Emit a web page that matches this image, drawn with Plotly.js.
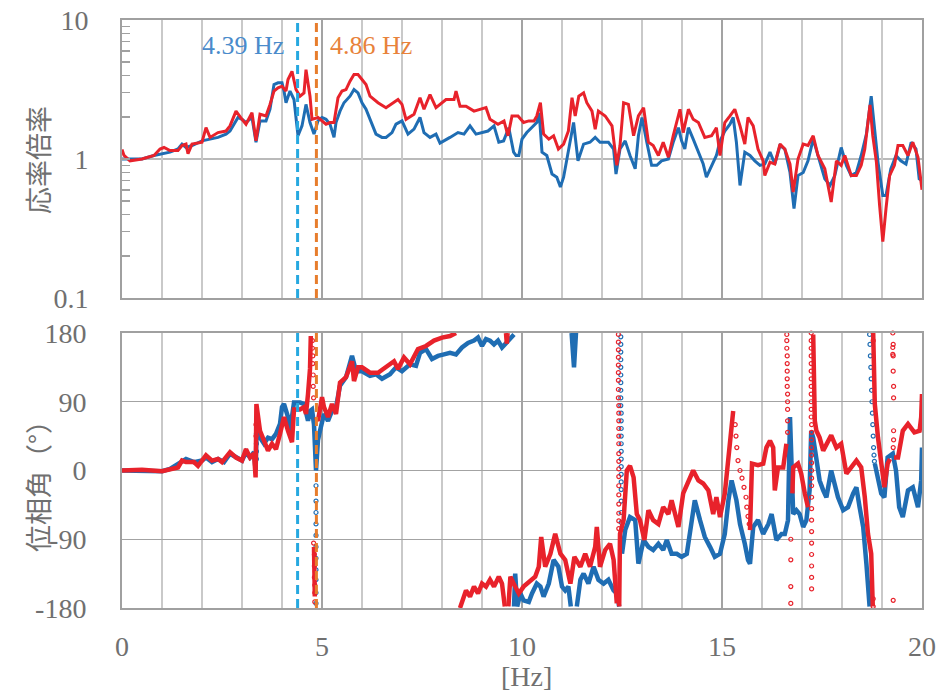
<!DOCTYPE html>
<html>
<head>
<meta charset="utf-8">
<script src="https://cdn.plot.ly/plotly-3.0.1.min.js"></script>
<style>html,body{margin:0;padding:0;background:#fff;}#chart{width:949px;height:695px;}</style>
</head>
<body>
<div id="chart"></div>
<script>
// ---- amplitude (応率倍率) ----
const ampRedX = [0,0.05,0.2,0.5,0.8,0.95,1.05,1.2,1.4,1.5,1.6,1.65,1.75,2.0,2.1,2.2,2.4,2.6,2.7,2.85,3.0,3.1,3.25,3.35,3.45,3.6,3.7,3.8,3.9,4.0,4.1,4.15,4.25,4.35,4.45,4.55,4.6,4.7,4.75,4.9,5.0,5.1,5.2,5.3,5.4,5.5,5.6,5.7,5.8,5.9,6.0,6.1,6.2,6.4,6.6,6.8,6.9,7.0,7.1,7.3,7.45,7.55,7.7,7.85,8.0,8.1,8.3,8.35,8.45,8.6,8.8,9.0,9.1,9.2,9.4,9.55,9.65,9.75,9.9,10.04,10.17,10.3,10.37,10.46,10.54,10.67,10.79,10.91,11.04,11.16,11.25,11.33,11.42,11.54,11.62,11.75,11.83,11.91,12.08,12.25,12.37,12.45,12.54,12.66,12.79,12.91,13.04,13.16,13.28,13.41,13.53,13.66,13.78,13.95,14.03,14.16,14.28,14.41,14.57,14.74,14.86,14.95,15.07,15.2,15.32,15.45,15.57,15.65,15.78,15.9,16.03,16.07,16.2,16.32,16.45,16.57,16.7,16.78,16.9,17.03,17.15,17.28,17.4,17.57,17.73,17.86,17.98,18.07,18.23,18.36,18.48,18.57,18.7,18.77,18.86,18.94,19.02,19.1,19.19,19.31,19.4,19.52,19.65,19.77,19.9,20.0];
const ampRed  = [1.17,1.06,0.97,1.0,1.06,1.18,1.21,1.15,1.15,1.25,1.28,1.09,1.28,1.32,1.68,1.43,1.55,1.59,1.73,2.21,1.93,1.78,2.15,1.35,2.10,2.04,2.47,3.08,3.25,3.34,3.08,3.73,4.27,3.16,2.83,2.99,4.39,2.83,1.93,1.99,1.88,1.78,1.83,1.83,2.76,3.08,3.16,3.63,4.05,4.05,3.73,3.43,2.83,2.54,2.34,2.54,2.68,2.47,1.93,2.10,2.76,2.28,2.91,2.34,2.54,2.68,2.68,3.08,2.40,2.40,2.21,2.28,2.34,1.93,1.78,1.88,1.47,2.04,2.04,1.83,1.88,1.88,2.04,2.54,1.51,1.39,1.47,1.18,1.28,1.59,2.76,2.04,2.83,2.99,2.54,2.21,1.64,2.21,2.04,1.73,0.90,1.25,2.54,2.47,1.47,2.04,2.34,1.32,1.25,1.06,1.32,1.03,1.47,2.28,1.55,2.28,1.93,1.83,1.43,1.47,1.68,1.06,1.83,2.04,2.28,1.73,1.28,1.99,1.73,1.18,0.97,0.76,0.95,0.92,1.28,1.18,0.92,0.578,1.0,1.28,1.25,1.47,1.06,0.85,0.49,0.97,0.90,1.06,0.76,0.76,0.90,1.18,2.45,1.47,0.95,0.464,0.254,0.44,0.76,0.90,1.25,1.25,1.06,1.32,1.03,0.60];

const ampBlueX = [0,0.5,0.8,1.0,1.2,1.4,1.5,1.6,1.75,2.0,2.2,2.4,2.6,2.7,2.9,3.0,3.1,3.25,3.35,3.45,3.6,3.7,3.8,3.9,4.0,4.05,4.1,4.2,4.3,4.35,4.4,4.5,4.6,4.7,4.8,4.9,5.0,5.1,5.2,5.3,5.35,5.45,5.55,5.7,5.8,5.9,6.0,6.1,6.2,6.35,6.5,6.6,6.75,6.85,7.0,7.15,7.3,7.45,7.55,7.7,7.85,7.95,8.2,8.4,8.55,8.7,8.85,9.0,9.15,9.3,9.42,9.54,9.67,9.79,9.85,9.92,10.0,10.12,10.25,10.37,10.43,10.5,10.62,10.75,10.87,10.96,11.04,11.16,11.29,11.4,11.54,11.7,11.83,11.95,12.16,12.29,12.35,12.45,12.58,12.7,12.83,12.91,13.0,13.12,13.24,13.37,13.49,13.66,13.78,13.91,13.99,14.07,14.16,14.28,14.41,14.53,14.61,14.74,14.86,14.95,15.07,15.2,15.28,15.36,15.45,15.57,15.7,15.82,15.95,16.07,16.2,16.32,16.45,16.57,16.7,16.8,16.9,17.03,17.15,17.28,17.4,17.57,17.7,17.82,17.98,18.11,18.23,18.36,18.48,18.61,18.73,18.82,18.9,19.02,19.1,19.22,19.35,19.47,19.6,19.73,19.85,19.93,20.0];
const ampBlue  = [1.0,1.0,1.06,1.09,1.12,1.18,1.28,1.21,1.25,1.35,1.39,1.43,1.51,1.59,1.99,1.93,1.83,1.99,1.32,1.88,1.88,2.28,3.43,3.53,3.53,3.08,2.54,3.08,2.68,1.93,1.47,1.73,2.47,1.83,1.51,1.88,1.99,1.93,1.78,1.43,1.83,2.21,2.54,2.83,3.16,2.99,2.54,2.28,1.93,1.51,1.43,1.43,1.55,1.78,1.88,1.51,1.64,1.99,1.55,1.43,1.51,1.30,1.43,1.55,1.51,1.73,1.51,1.55,1.59,1.73,1.32,1.35,1.68,1.12,1.06,1.06,1.39,1.55,1.68,1.83,2.15,1.12,1.06,0.78,0.74,0.628,0.74,1.12,1.83,0.97,1.28,1.32,1.43,1.32,1.32,1.18,0.78,1.18,1.35,1.06,0.85,1.47,1.99,1.32,0.90,0.90,0.97,1.0,1.32,1.68,1.35,1.18,1.68,1.39,1.12,0.92,0.74,0.90,1.06,1.35,1.59,1.78,1.99,1.32,0.645,1.12,1.06,0.97,0.90,0.92,1.12,0.92,1.25,1.18,0.80,0.44,0.76,0.80,0.97,1.39,1.06,0.72,0.645,0.76,1.21,0.90,0.76,0.80,1.06,1.51,2.83,1.68,0.95,0.547,0.547,0.85,1.06,0.97,0.92,1.32,1.18,0.72,0.70];

// ---- phase (位相角) : null = wrap break ----
const phRedX = [0,0.5,1.0,1.2,1.4,1.5,1.6,1.8,1.9,2.0,2.1,2.25,2.4,2.5,2.7,2.85,3.0,3.1,3.2,3.3,3.34,3.36,3.45,3.55,3.65,3.75,3.85,3.95,4.05,4.15,4.25,4.3,4.45,4.55,4.6,4.65,4.7,4.72,null,4.8,4.82,null,4.85,4.9,5.0,5.05,5.15,5.25,5.35,5.45,5.6,5.75,5.8,5.9,6.0,6.2,6.4,6.6,6.8,6.9,7.05,7.2,7.4,7.6,7.8,8.0,8.2,8.35,null,8.45,8.6,8.7,8.8,8.9,9.0,9.1,9.2,9.3,9.42,9.5,9.57,null,9.6,9.62,9.64,null,9.66,9.71,9.79,9.92,10.04,10.17,10.33,10.42,10.48,10.58,10.71,10.83,10.96,11.08,11.21,11.31,11.46,11.58,11.7,11.83,11.87,11.95,12.08,12.2,12.29,12.37,null,12.43,12.45,12.54,12.62,12.7,12.79,12.87,12.95,13.06,13.16,13.28,13.41,13.53,13.66,13.74,13.91,14.03,14.16,14.28,14.41,14.53,14.66,14.78,14.86,14.95,15.07,15.16,15.24,15.28,null,15.7,15.75,15.9,16.03,16.11,16.2,16.28,16.32,16.4,16.53,16.61,null,16.76,16.78,16.9,16.98,17.07,17.15,null,17.28,17.32,17.36,17.44,17.53,17.61,17.73,17.86,17.98,18.11,18.23,18.36,18.48,18.57,18.65,18.73,18.77,null,18.78,18.82,18.9,18.98,19.06,19.14,19.2,null,19.3,19.4,19.52,19.65,19.81,19.94,19.98,20.0];
const phRed  = [0,1,-1,2,4,13,11,11,6,13,20,13,15,11,24,17,13,28,17,22,-9,87,52,39,26,35,28,48,70,52,37,80,80,83,74,100,133,176,null,-100,-165,null,70,65,96,83,70,87,74,115,122,143,117,135,135,128,128,135,143,133,148,139,159,163,170,174,176,180,null,-180,-157,-165,-152,-161,-148,-152,-143,-152,-139,-148,-178,null,180,166,180,null,-178,-139,-148,-161,-152,-146,-139,-126,-87,-126,-109,-83,-109,-117,-148,-113,-126,-109,-126,-100,-74,-126,-104,-96,-117,-174,null,-178,-83,-65,0,6,-9,-57,-65,-91,-52,-65,-70,-48,-57,-39,-74,-30,-13,0,-13,-17,-26,-57,-35,-61,-30,17,65,78,null,-78,9,7,9,30,39,30,-26,4,4,35,null,-30,4,9,-4,-30,-48,null,178,65,52,43,26,35,46,30,35,-4,4,13,4,-35,-83,-109,-178,null,180,87,43,13,-22,9,15,null,17,17,52,61,50,52,70,100];

const phBlueX = [0,0.5,1.0,1.2,1.5,1.6,1.8,2.0,2.1,2.25,2.4,2.55,2.7,2.85,3.0,3.1,3.2,3.3,3.34,3.37,3.45,3.55,3.65,3.75,3.85,3.95,4.0,4.05,4.15,4.2,4.3,4.45,4.55,4.65,4.7,4.75,4.8,4.85,4.9,4.95,5.05,5.15,5.25,5.35,5.45,5.6,5.75,5.85,6.0,6.2,6.35,6.5,6.7,6.85,7.0,7.2,7.35,7.45,7.6,7.75,7.9,8.05,8.2,8.35,8.5,8.65,8.8,8.9,9.0,9.1,9.2,9.3,9.4,9.5,9.6,9.75,9.8,null,9.8,9.83,9.88,9.96,10.04,10.17,10.25,10.37,10.46,10.54,10.67,10.79,10.91,11.0,11.08,11.16,11.22,null,11.24,11.3,11.35,null,11.37,11.46,11.54,11.66,11.79,11.91,12.04,12.16,12.29,12.37,12.43,null,12.5,12.58,12.7,12.83,12.91,13.04,13.16,13.28,13.41,13.53,13.62,13.74,13.87,13.99,14.12,14.2,14.32,14.45,14.57,14.7,14.82,14.95,15.07,15.16,15.24,15.36,15.45,15.57,15.65,15.7,15.78,15.9,16.03,16.16,16.24,16.36,16.49,16.57,16.65,16.7,16.78,16.86,16.94,17.03,17.11,17.19,17.23,17.28,17.36,17.44,17.53,17.61,17.73,17.82,17.9,18.03,18.15,18.28,18.36,18.44,18.53,18.61,18.65,18.69,null,18.82,18.9,18.98,19.06,19.14,19.27,19.35,19.43,19.52,19.65,19.77,19.9,19.98,20.0];
const phBlue  = [0,-1,-1,2,11,15,11,13,17,11,15,11,22,17,13,24,17,24,0,61,43,35,43,41,48,61,83,87,70,52,89,89,87,65,78,80,60,0,40,52,74,65,78,83,111,122,150,130,130,124,126,120,126,135,130,139,137,154,159,146,150,152,154,152,161,167,170,174,163,172,170,165,170,161,167,174,178,null,-178,-135,-178,-161,-170,-172,-161,-148,-152,-165,-148,-117,-126,-152,-157,-152,-178,null,180,135,180,null,-178,-143,-135,-148,-126,-143,-148,-143,-157,-161,-178,null,-109,-78,-61,-65,-122,-91,-100,-104,-96,-104,-91,-109,-109,-113,-109,-83,-39,-65,-87,-100,-113,-109,-83,-39,-13,-39,-70,-96,-117,-122,-74,-65,-83,-70,-57,-91,-83,-83,-65,70,-57,-52,-57,-74,-65,-26,52,43,17,-13,-26,-35,0,-17,-35,-52,-48,-30,-22,-48,-74,-122,-152,-178,null,9,-13,-30,-35,17,22,0,-48,-61,-26,-22,-48,-13,30];

// sparse phase points where the phase sweeps quickly (drawn as dots)
const dotRedX = [3.35,3.35,4.76,4.76,4.77,4.77,4.78,4.78,4.79,4.79,4.81,4.81,4.81,4.82,4.82,4.82,12.41,12.41,12.41,12.41,12.41,12.41,12.41,12.41,12.41,12.42,12.42,12.42,12.42,12.42,12.42,12.42,12.42,12.42,12.42,12.42,12.42,12.42,12.42,12.42,12.42,15.33,15.35,15.37,15.4,15.45,15.5,15.55,15.6,15.62,15.65,15.68,16.62,16.62,16.62,16.63,16.63,16.63,16.63,16.63,16.64,16.64,16.64,16.64,16.64,16.72,16.72,16.72,16.72,17.23,17.23,17.23,17.23,17.23,17.23,17.23,17.23,17.23,17.23,17.23,17.23,17.24,17.24,17.24,17.24,17.24,17.24,17.24,17.24,17.24,17.24,17.24,17.24,17.24,17.24,17.24,17.24,17.24,17.24,18.78,18.78,18.78,19.27,19.27,19.27,19.28,19.28,19.28,19.29,19.29,19.29,19.29,19.28,19.28];
const dotRed  = [60,45,170,160,150,140,125,110,95,-95,-110,-125,-140,-150,-160,-172,178,168,158,148,138,128,118,106,95,85,75,65,55,45,35,22,12,2,-8,-20,-32,-44,-56,-66,-76,60,45,30,13,0,-10,-22,-35,-48,-60,-70,178,170,160,150,140,130,120,110,100,90,80,65,50,-90,-117,-152,-174,180,170,160,150,140,130,120,110,100,90,80,70,60,50,40,30,20,10,0,-10,-20,-35,-50,-65,-80,-95,-110,-125,-140,-155,-168,-178,170,161,152,180,165,150,130,110,95,52,40,30,-170,-180];
const dotBlueX = [3.36,3.36,3.36,3.36,4.85,4.85,4.85,4.85,4.85,4.85,4.85,4.85,4.85,4.85,4.85,12.47,12.47,12.47,12.47,12.47,12.47,12.47,12.47,12.47,12.47,12.48,12.48,12.48,12.48,12.48,12.48,12.48,12.48,12.48,12.48,12.48,12.48,12.48,12.48,18.69,18.7,18.71,18.72,18.73,18.74,18.75,18.76,18.77,18.78,18.79,18.8,18.81];
const dotBlue  = [15,25,35,48,-20,-40,-55,-70,-85,-100,-115,-130,-143,-160,-174,175,165,155,145,135,125,115,105,95,85,75,65,55,45,35,25,15,5,-5,-15,-25,-40,-55,-68,178,165,150,135,120,105,90,75,60,45,30,20,12];

// marker frequencies
const markFreqs = [4.39, 4.86];
const markLabels = ['4.39 Hz', '4.86 Hz'];

// tick labels
const ampTickVals = [0.1,0.2,0.3,0.4,0.5,0.6,0.7,0.8,0.9,1,2,3,4,5,6,7,8,9,10];
const ampTickText = ['0.1','','','','','','','','','1','','','','','','','','','10'];
const phTickVals = [-180,-90,0,90,180];
const phTickText = ['-180','-90','0','90','180'];
const xTickVals = [0,5,10,15,20];
const xTickText = ['0','5','10','15','20'];

const RED = '#e8222b', BLUE = '#1f6db3';
const SERIF = "'Liberation Serif', 'Times New Roman', Times, serif";
const CJK = "'Noto Sans CJK JP', sans-serif";
const GRID_MAJ = '#a3a3a3', GRID_MIN = '#c9c9c9', FRAME = '#a0a0a0', TXT = '#707070';

const traces = [
  {x: ampBlueX, y: ampBlue, xaxis:'x', yaxis:'y', mode:'lines', line:{color:BLUE, width:3}, hoverinfo:'skip'},
  {x: ampRedX, y: ampRed, xaxis:'x', yaxis:'y', mode:'lines', line:{color:RED, width:3}, hoverinfo:'skip'},
  {x: phBlueX, y: phBlue, xaxis:'x2', yaxis:'y2', mode:'lines', line:{color:BLUE, width:4.5}, connectgaps:false, hoverinfo:'skip'},
  {x: dotBlueX, y: dotBlue, xaxis:'x2', yaxis:'y2', mode:'markers', marker:{symbol:'circle-open', size:4, color:BLUE, line:{width:1.2, color:BLUE}}, hoverinfo:'skip', cliponaxis:false},
  {x: phRedX, y: phRed, xaxis:'x2', yaxis:'y2', mode:'lines', line:{color:RED, width:4.5}, connectgaps:false, hoverinfo:'skip'},
  {x: dotRedX, y: dotRed, xaxis:'x2', yaxis:'y2', mode:'markers', marker:{symbol:'circle-open', size:4, color:RED, line:{width:1.2, color:RED}}, hoverinfo:'skip', cliponaxis:false}
];

const xCommon = {
  range:[0,20], showline:true, mirror:true, linecolor:FRAME, linewidth:2,
  showgrid:true, gridcolor:GRID_MAJ, gridwidth:1.5, tickvals:xTickVals, ticktext:xTickText, zeroline:false,
  minor:{dtick:1, showgrid:true, gridcolor:GRID_MIN, gridwidth:1.5, ticks:''},
  ticks:''
};

const shapes = [];
const dashColors = ['#26a8e0', '#e77d2c'];
markFreqs.forEach((f,i) => {
  shapes.push({type:'line', xref:'x', yref:'y domain', x0:f, x1:f, y0:0, y1:1, layer:'above', line:{color:dashColors[i], width:3, dash:'9px,5px'}});
  shapes.push({type:'line', xref:'x2', yref:'y2 domain', x0:f, x1:f, y0:0, y1:1, layer:'above', line:{color:dashColors[i], width:3, dash:'9px,5px'}});
});
shapes.push({type:'line', xref:'x domain', yref:'y', x0:0, x1:1, y0:1, y1:1, layer:'below', line:{color:GRID_MAJ, width:1.5}});

const layout = {
  width:949, height:695,
  margin:{l:122, r:27, t:20, b:87},
  paper_bgcolor:'#fff', plot_bgcolor:'#fff',
  showlegend:false,
  font:{family:SERIF, color:TXT, size:26},
  xaxis: Object.assign({}, xCommon, {anchor:'y', showticklabels:false}),
  xaxis2: Object.assign({}, xCommon, {anchor:'y2', showticklabels:true, tickfont:{family:SERIF, size:28, color:TXT}, ticklabelstandoff:12}),
  yaxis: {
    domain:[0.5272, 1], type:'log', range:[-1,1], showline:true, mirror:true, linecolor:FRAME, linewidth:2,
    showgrid:false, zeroline:false, tickvals:ampTickVals, ticktext:ampTickText,
    ticks:'inside', ticklen:8, tickwidth:1.5, tickcolor:FRAME,
    tickfont:{family:SERIF, size:28, color:TXT}, ticklabelstandoff:26
  },
  yaxis2: {
    domain:[0, 0.4677], range:[-180,180], showline:true, mirror:true, linecolor:FRAME, linewidth:2,
    showgrid:true, gridcolor:GRID_MAJ, gridwidth:1.5, zeroline:false, tickvals:phTickVals, ticktext:phTickText, ticks:'',
    tickfont:{family:SERIF, size:28, color:TXT}, ticklabelstandoff:28
  },
  shapes: shapes,
  annotations: [
    {xref:'x', yref:'paper', x:markFreqs[0]-0.3, y:0.956, xanchor:'right', yanchor:'middle', text:markLabels[0], showarrow:false, font:{family:SERIF, size:26, color:'#4a8bcb'}},
    {xref:'x', yref:'paper', x:markFreqs[1]+0.28, y:0.956, xanchor:'left', yanchor:'middle', text:markLabels[1], showarrow:false, font:{family:SERIF, size:26, color:'#e8823a'}},
    {xref:'paper', yref:'paper', x:-0.105, y:0.762, xanchor:'center', yanchor:'middle', textangle:-90, text:'応率倍率', showarrow:false, font:{family:CJK, size:27, color:TXT}},
    {xref:'paper', yref:'paper', x:-0.105, y:0.2177, xanchor:'center', yanchor:'middle', textangle:-90, text:'位相角（°）', showarrow:false, font:{family:CJK, size:27, color:TXT}},
    {xref:'paper', yref:'paper', x:0.506, y:-0.1165, xanchor:'center', yanchor:'middle', text:'[Hz]', showarrow:false, font:{family:SERIF, size:28, color:TXT}}
  ]
};

Plotly.newPlot('chart', traces, layout, {displayModeBar:false, staticPlot:true});
</script>
</body>
</html>
